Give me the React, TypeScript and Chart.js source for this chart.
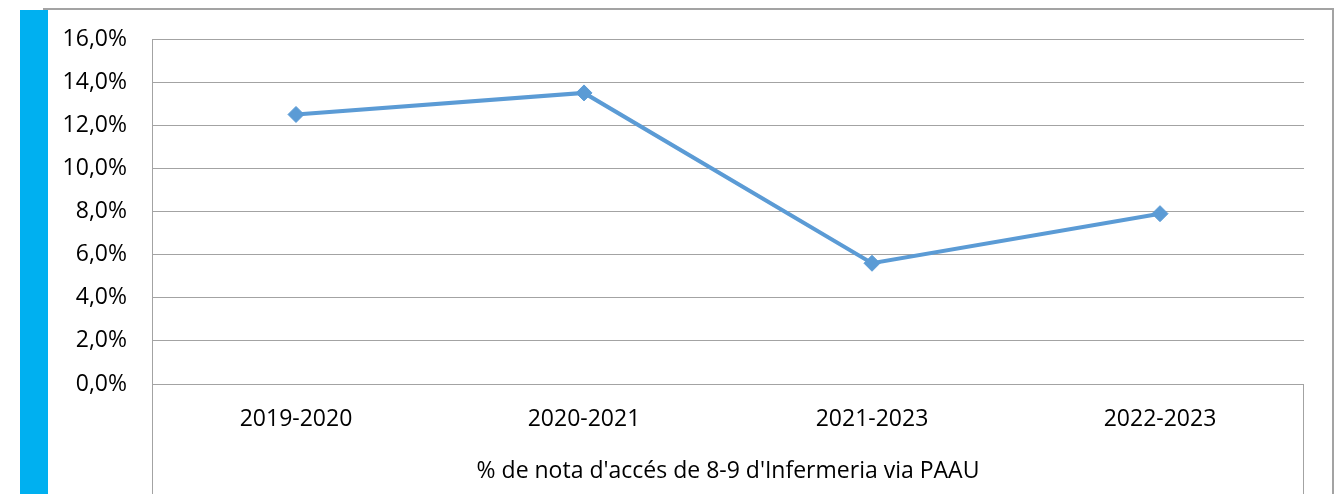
import React, { useEffect, useRef } from "react";
import { Chart, registerables } from "chart.js";

Chart.register(...registerables);

const categories = ["2019-2020", "2020-2021", "2021-2023", "2022-2023"];
const seriesValues = [12.5, 13.5, 5.6, 7.9];
const seriesName = "% de nota d'accés de 8-9 d'Infermeria via PAAU";
const yTickMin = 0;
const yTickMax = 16;
const yTickStep = 2;

const W = 1343;
const H = 494;
const FONT = "'Open Sans', 'Noto Sans', sans-serif";
const GRID = "#A3A3A3";

export default function App() {
  const ref = useRef<HTMLCanvasElement | null>(null);

  useEffect(() => {
    if (!ref.current) return;
    const decor = {
      id: "decor",
      afterDraw(chart: any) {
        const ctx = chart.ctx;
        const a = chart.chartArea;
        ctx.save();
        // outer border
        ctx.strokeStyle = GRID;
        ctx.lineWidth = 2;
        ctx.beginPath();
        ctx.moveTo(44, H);
        ctx.lineTo(44, 9);
        ctx.lineTo(1333, 9);
        ctx.lineTo(1333, H);
        ctx.stroke();
        // axis lines
        ctx.lineWidth = 1;
        ctx.beginPath();
        ctx.moveTo(Math.round(a.left) + 0.5, a.top);
        ctx.lineTo(Math.round(a.left) + 0.5, H);
        ctx.moveTo(Math.round(a.right) - 0.5, a.bottom);
        ctx.lineTo(Math.round(a.right) - 0.5, H);
        ctx.stroke();
        // blue bar
        ctx.fillStyle = "#00B0F0";
        ctx.fillRect(20, 10, 28, H - 10);
        ctx.restore();
      },
    };

    const chart = new Chart(ref.current, {
      type: "line",
      data: {
        labels: categories,
        datasets: [
          {
            label: seriesName,
            data: seriesValues,
            borderColor: "#5B9BD5",
            backgroundColor: "#5B9BD5",
            borderWidth: 4,
            pointStyle: "rectRot",
            pointRadius: 8,
            pointBorderWidth: 1,
            pointBorderColor: "#5B9BD5",
            pointBackgroundColor: "#5B9BD5",
            tension: 0,
          },
        ],
      },
      options: {
        responsive: false,
        animation: false,
        devicePixelRatio: 1,
        layout: { padding: { left: 0, top: 39, right: 39, bottom: 0 } },
        plugins: {
          legend: { display: false },
          tooltip: { enabled: false },
        },
        scales: {
          x: {
            offset: true,
            grid: { display: false, drawTicks: false },
            border: { display: false },
            ticks: {
              color: "#000000",
              padding: 22,
              maxRotation: 0,
              font: { family: FONT, size: 23 },
            },
            title: {
              display: true,
              text: seriesName,
              color: "#000000",
              padding: { top: 0, bottom: 9 },
              font: { family: FONT, size: 23 },
            },
            afterFit: (scale: any) => {
              scale.height = 110;
            },
          },
          y: {
            min: yTickMin,
            max: yTickMax,
            ticks: {
              stepSize: yTickStep,
              color: "#000000",
              padding: 25,
              font: { family: FONT, size: 23 },
              callback: (v: any) => Number(v).toFixed(1).replace(".", ",") + "%",
            },
            grid: { color: GRID, lineWidth: 1, drawTicks: false },
            border: { display: false },
            afterFit: (scale: any) => {
              scale.width = 152;
            },
          },
        },
      },
      plugins: [decor],
    });
    return () => chart.destroy();
  }, []);

  return (
    <div style={{ position: "fixed", left: 0, top: 0, width: W, height: H, background: "#fff" }}>
      <canvas ref={ref} width={W} height={H} style={{ width: W, height: H, display: "block" }} />
    </div>
  );
}
